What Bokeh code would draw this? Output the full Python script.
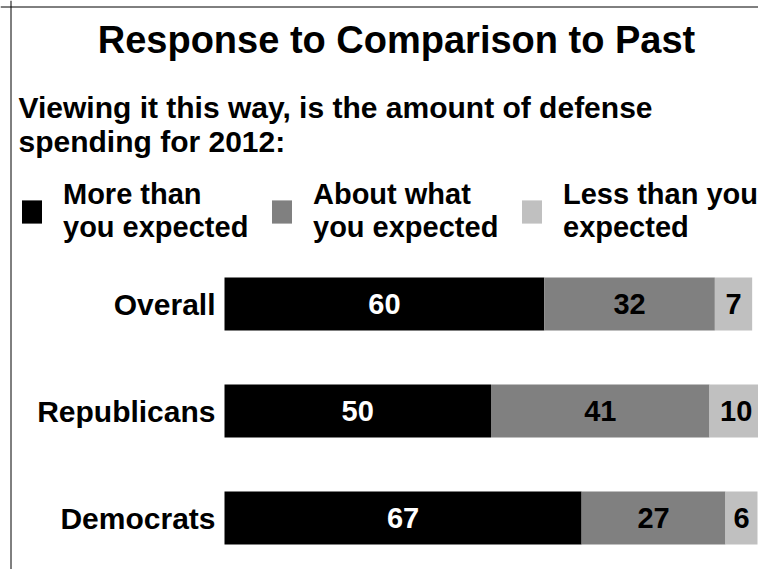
from bokeh.plotting import figure
from bokeh.models import Range1d, ColumnDataSource, Label, Legend, LegendItem, Span
from bokeh.core.properties import value
from bokeh.embed import file_html
from bokeh.resources import INLINE

# ---- data ----
categories = ["Overall", "Republicans", "Democrats"]
more_than = [60, 50, 67]
about_what = [32, 41, 27]
less_than = [7, 10, 6]
series_keys = ["more", "about", "less"]
series_labels = ["More than\nyou expected", "About what\nyou expected", "Less than you\nexpected"]
series_colors = ["#000000", "#808080", "#c0c0c0"]
label_colors = ["#ffffff", "#000000", "#000000"]
title_text = "Response to Comparison to Past"
subtitle_lines = ["Viewing it this way, is the amount of defense", "spending for 2012:"]

# ---- layout (canvas pixels) ----
W, H = 758, 569
PX_PER_UNIT = 5.33
BAR_LEFT = 224
ROW0 = 303.5
ROW_STEP = 107
FONT = "Liberation Sans"


def X(cx):
    return (cx - BAR_LEFT) / PX_PER_UNIT


def Y(cy):
    return (cy - ROW0) / ROW_STEP


p = figure(width=W, height=H, output_backend="svg", toolbar_location=None,
           x_range=Range1d(X(0), X(W)), y_range=Range1d(Y(H), Y(0)),
           x_axis_location=None, y_axis_location=None, min_border=0)
p.grid.visible = False
p.outline_line_color = None
p.background_fill_color = "white"
p.border_fill_color = "white"

idx = list(range(len(categories)))
src = ColumnDataSource(dict(idx=idx, cat=categories, more=more_than,
                            about=about_what, less=less_than))
renderers = p.hbar_stack(series_keys, y="idx", height=0.495, color=series_colors,
                         line_color=None, source=src)

# value labels centred in each segment
starts = [0] * len(categories)
for key, vals, tc in zip(series_keys, [more_than, about_what, less_than], label_colors):
    mids = [s + v / 2 for s, v in zip(starts, vals)]
    p.text(x=mids, y=idx, text=[str(v) for v in vals], text_align="center",
           text_baseline="middle", text_color=tc, text_font=value(FONT),
           text_font_style="bold", text_font_size="29px")
    starts = [s + v for s, v in zip(starts, vals)]

# category labels
p.text(x=[0] * len(categories), y=idx, text=categories, x_offset=-9,
       text_align="right", text_baseline="middle", text_color="black",
       text_font=value(FONT), text_font_style="bold", text_font_size="30px")

# title and subtitle
p.add_layout(Label(x=X(396), y=Y(39), text=title_text, text_align="center",
                   text_baseline="alphabetic", text_font=FONT, text_font_style="bold",
                   text_font_size="38px", text_color="black"))
for i, line in enumerate(subtitle_lines):
    p.add_layout(Label(x=X(18), y=Y(107 + 34 * i), text=line, text_align="left",
                       text_baseline="alphabetic", text_font=FONT, text_font_style="bold",
                       text_font_size="30px", text_color="black"))

# legend: one per series
legend_left = [19, 269, 519]
for r, lab, lx in zip(renderers, series_labels, legend_left):
    leg = Legend(items=[LegendItem(label=lab, renderers=[r])], location=(lx, H - 244),
                 orientation="horizontal", padding=0, margin=0, spacing=0,
                 glyph_width=25, glyph_height=29, label_standoff=19,
                 label_text_font=FONT, label_text_font_style="bold",
                 label_text_font_size="29px", label_text_color="black",
                 border_line_color=None, background_fill_alpha=0)
    p.add_layout(leg)

# frame lines (left and top)
p.add_layout(Span(location=X(10.5), dimension="height", line_color="black", line_width=1))
p.add_layout(Span(location=Y(6.5), dimension="width", line_color="black", line_width=1))

open("out.html", "w").write(file_html(p, INLINE))
